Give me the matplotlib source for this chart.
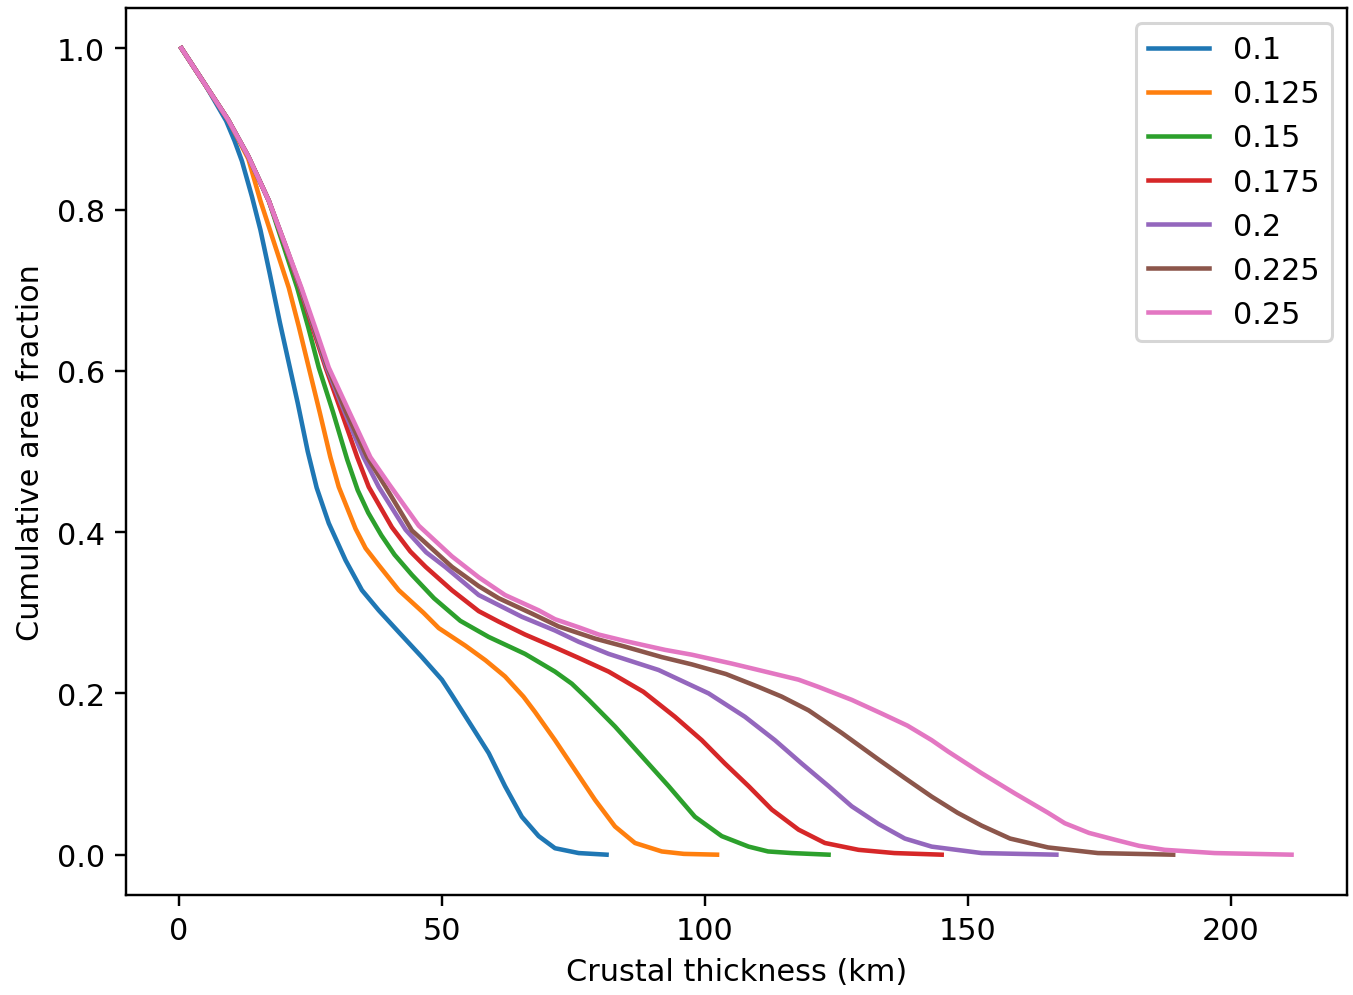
import matplotlib
matplotlib.use("Agg")
import matplotlib.pyplot as plt

# ==========================================
# DATA
# ==========================================
labels = ["0.1", "0.125", "0.15", "0.175", "0.2", "0.225", "0.25"]

# 0.1
x_01 = [0.5, 5, 9, 10.6, 12, 13.9, 15.5, 17.3, 19.2, 21.0, 22.6, 24.5, 26.2, 28.5,
        31.7, 34.8, 38.0, 41.8, 46.2, 50.0, 51.9, 55.7, 58.9, 62.0, 65.2, 68.4,
        71.5, 76.0, 81.3]
y_01 = [1.0, 0.955, 0.91, 0.885, 0.86, 0.816, 0.775, 0.72, 0.66, 0.607, 0.56,
        0.50, 0.455, 0.411, 0.365, 0.328, 0.303, 0.276, 0.245, 0.217, 0.198,
        0.159, 0.126, 0.085, 0.047, 0.023, 0.008, 0.002, 0.0]

# 0.125
x_0125 = [0.5, 5, 9.4, 13.2, 15.5, 18.2, 20.9, 22.8, 24.7, 26.8, 28.8, 30.4, 33.6,
          35.5, 38.0, 41.8, 46.5, 49.4, 54.5, 58.3, 62.0, 65.5, 67.7, 71.5, 75.3,
          79.1, 82.9, 86.7, 91.8, 96.0, 102.3]
y_0125 = [1.0, 0.955, 0.911, 0.863, 0.811, 0.757, 0.703, 0.655, 0.604, 0.548,
          0.493, 0.456, 0.404, 0.380, 0.359, 0.328, 0.300, 0.281, 0.259, 0.241,
          0.221, 0.196, 0.177, 0.142, 0.105, 0.068, 0.035, 0.0145, 0.004, 0.001, 0.0]

# 0.15
x_015 = [0.5, 5, 9.4, 13.2, 17.1, 19.8, 22.5, 24.6, 26.6, 29.3, 32.0, 34.0, 36.0,
         38.5, 41.0, 44.3, 48.5, 53.5, 58.9, 65.8, 71.5, 74.7, 77.9, 82.9, 88.0,
         93.1, 98.1, 103.2, 108.3, 112.0, 116.5, 123.5]
y_015 = [1.0, 0.955, 0.911, 0.866, 0.811, 0.757, 0.703, 0.654, 0.604, 0.549, 0.49,
         0.452, 0.424, 0.396, 0.372, 0.347, 0.318, 0.290, 0.270, 0.249, 0.227,
         0.212, 0.192, 0.159, 0.122, 0.085, 0.047, 0.023, 0.010, 0.004, 0.002, 0.0]

# 0.175
x_0175 = [0.5, 5, 9.4, 13.2, 17.1, 20.1, 23.0, 25.4, 27.9, 30.9, 33.9, 36.1, 40.5,
          44.0, 46.9, 51.9, 57.0, 60.8, 65.8, 71.5, 76.0, 81.7, 88.3, 94.3, 99.4,
          103.8, 108.3, 112.7, 117.8, 122.8, 129.2, 136.0, 145.0]
y_0175 = [1.0, 0.955, 0.911, 0.866, 0.811, 0.757, 0.703, 0.654, 0.604, 0.549,
          0.493, 0.456, 0.406, 0.376, 0.357, 0.328, 0.302, 0.289, 0.273, 0.257,
          0.244, 0.227, 0.202, 0.171, 0.142, 0.113, 0.085, 0.056, 0.031, 0.0145,
          0.006, 0.002, 0.0]

# 0.2
x_02 = [0.5, 5, 9.4, 13.2, 17.1, 20.15, 23.1, 25.6, 28.1, 31.5, 35.1, 38.0, 43.1,
        47.0, 50.6, 57.0, 65.2, 71.5, 76.0, 81.7, 91.2, 100.7, 107.6, 113.3, 118.4,
        123.5, 127.9, 133.0, 138.0, 143.1, 152.6, 166.8]
y_02 = [1.0, 0.955, 0.911, 0.866, 0.811, 0.757, 0.703, 0.654, 0.604, 0.549, 0.493,
        0.456, 0.403, 0.375, 0.357, 0.322, 0.295, 0.278, 0.264, 0.249, 0.229, 0.200,
        0.171, 0.142, 0.113, 0.085, 0.060, 0.038, 0.020, 0.010, 0.002, 0.0]

# 0.225
x_0225 = [0.5, 5, 9.4, 13.2, 17.1, 20.2, 23.2, 25.7, 28.3, 31.8, 35.8, 39.3, 44.3,
          51.9, 57.0, 60.8, 67.1, 72.2, 79.1, 84.8, 91.8, 97.5, 104.0, 110.2, 114.6,
          119.7, 126.0, 133.0, 138.0, 143.1, 148.0, 152.6, 158.0, 165.2, 174.7, 189.0]
y_0225 = [1.0, 0.955, 0.911, 0.866, 0.811, 0.757, 0.703, 0.654, 0.604, 0.549,
          0.493, 0.456, 0.402, 0.357, 0.333, 0.318, 0.299, 0.283, 0.268, 0.258,
          0.245, 0.236, 0.224, 0.208, 0.196, 0.179, 0.151, 0.118, 0.095, 0.072,
          0.052, 0.036, 0.020, 0.009, 0.002, 0.0]

# 0.25
x_025 = [0.5, 5, 9.4, 13.2, 17.1, 20.2, 23.3, 25.9, 28.5, 32.4, 36.4, 39.9, 45.6,
         51.9, 57.0, 62.0, 68.4, 71.5, 76.0, 79.8, 84.8, 92.4, 97.5, 105.1, 110.2,
         117.8, 121.6, 127.9, 133.6, 138.5, 143.1, 146.2, 152.6, 158.9, 165.2, 168.4,
         173.0, 177.9, 182.5, 187.4, 196.9, 211.5]
y_025 = [1.0, 0.955, 0.911, 0.866, 0.811, 0.757, 0.703, 0.654, 0.604, 0.549, 0.493,
         0.460, 0.408, 0.370, 0.344, 0.322, 0.303, 0.292, 0.282, 0.273, 0.265, 0.254,
         0.248, 0.237, 0.229, 0.217, 0.208, 0.192, 0.175, 0.160, 0.142, 0.128, 0.101,
         0.076, 0.052, 0.039, 0.027, 0.0186, 0.011, 0.006, 0.002, 0.0]

xs = [x_01, x_0125, x_015, x_0175, x_02, x_0225, x_025]
ys = [y_01, y_0125, y_015, y_0175, y_02, y_0225, y_025]

DPI = 218


def main():
    fig, ax = plt.subplots(figsize=(1353 / DPI, 996 / DPI), dpi=DPI)
    fig.subplots_adjust(left=0.0931, right=0.9956, top=0.991, bottom=0.1004)

    for x, y, lab in zip(xs, ys, labels):
        ax.plot(x, y, label=lab)

    ax.set_xlabel("Crustal thickness (km)")
    ax.set_ylabel("Cumulative area fraction")
    ax.legend(loc="upper right")

    fig.savefig("out.png", dpi=DPI)


if __name__ == "__main__":
    main()
